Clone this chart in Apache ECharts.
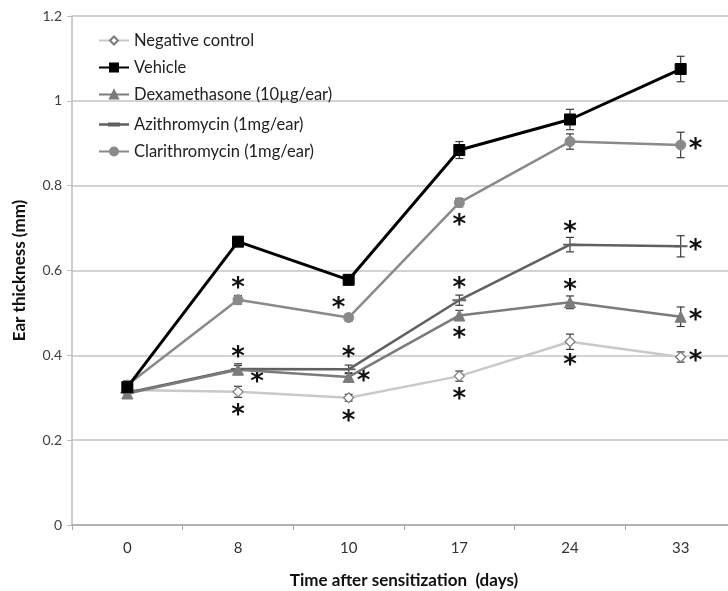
<!DOCTYPE html>
<html><head><meta charset="utf-8">
<script src="https://cdn.jsdelivr.net/npm/echarts@6/dist/echarts.min.js"></script>
<style>html,body{margin:0;padding:0;background:#fff}#c{width:728px;height:591px}</style>
</head><body><div id="c"></div>
<script>
// ---- data ----
const days = ['0', '8', '10', '17', '24', '33'];
const seriesNames = ['Negative control', 'Vehicle', 'Dexamethasone (10µg/ear)', 'Azithromycin (1mg/ear)', 'Clarithromycin (1mg/ear)'];

const negative    = [0.318, 0.314, 0.300, 0.351, 0.432, 0.396];
const negativeErr = [0.008, 0.013, 0.008, 0.012, 0.018, 0.012];
const negativeSig = ['', 'below', 'below', 'below', 'below', 'right'];

const vehicle    = [0.325, 0.668, 0.578, 0.884, 0.956, 1.075];
const vehicleErr = [0.010, 0.010, 0.008, 0.020, 0.024, 0.030];
const vehicleSig = ['', '', '', '', '', ''];

const dexa    = [0.310, 0.366, 0.349, 0.494, 0.525, 0.491];
const dexaErr = [0.010, 0.010, 0.010, 0.012, 0.015, 0.023];
const dexaSig = ['', 'lowright', 'right', 'below', 'above', 'right'];

const azithro    = [0.312, 0.368, 0.367, 0.530, 0.661, 0.657];
const azithroErr = [0.010, 0.012, 0.010, 0.012, 0.017, 0.025];
const azithroSig = ['', 'above', 'above', 'above', 'above', 'right'];

const clari    = [0.330, 0.531, 0.489, 0.760, 0.904, 0.896];
const clariErr = [0.010, 0.010, 0.008, 0.010, 0.018, 0.030];
const clariSig = ['', 'above', 'upleft', 'below', '', 'right'];

// ---- styling ----
const FONT = 'Lato, "Open Sans", sans-serif';
const sigOffset = {
  above: [0, -18], below: [0, 17], right: [15, -2], lowright: [19, 6], upleft: [-10, -15]
};

function annotations(name, vals, errs, sigs) {
  return {
    type: 'custom', name: name + ' err', silent: true, z: 1,
    data: vals.map((v, i) => [i, v, errs[i]]),
    encode: { x: 0, y: 1 },
    renderItem(params, api) {
      const i = api.value(0), v = api.value(1), e = api.value(2);
      const c = api.coord([i, v]), hi = api.coord([i, v + e]), lo = api.coord([i, v - e]);
      const cap = 4, st = { stroke: '#3a3a3a', lineWidth: 1.2 };
      const ch = [
        { type: 'line', shape: { x1: c[0], y1: hi[1], x2: c[0], y2: lo[1] }, style: st },
        { type: 'line', shape: { x1: c[0] - cap, y1: hi[1], x2: c[0] + cap, y2: hi[1] }, style: st },
        { type: 'line', shape: { x1: c[0] - cap, y1: lo[1], x2: c[0] + cap, y2: lo[1] }, style: st }
      ];
      const s = sigs[params.dataIndex];
      if (s) {
        const o = sigOffset[s];
        ch.push({ type: 'text', z2: 10, style: { text: '*', x: c[0] + o[0], y: c[1] + o[1] + 7,
          align: 'center', verticalAlign: 'middle', font: 'bold 26px "DejaVu Sans"', fill: '#111' } });
      }
      return { type: 'group', children: ch };
    }
  };
}

function lineSeries(name, vals, color, width, symbol, size, extra) {
  return Object.assign({
    type: 'line', name, data: vals, z: 3,
    symbol, symbolSize: size, showSymbol: true,
    lineStyle: { color, width },
    itemStyle: { color, borderColor: color, borderWidth: 1 },
    emphasis: { disabled: true }
  }, extra || {});
}

const legendText = { fontFamily: FONT, fontSize: 16.5, color: '#222', lineHeight: 16 };
const dashIcon = 'path://M15,0L15.01,0L15.01,0.01Z M0,3.8L30,3.8L30,6.2L0,6.2Z M9,3L21,3L21,7L9,7Z M15,10L15.01,10L15.01,9.99Z';
const chart = echarts.init(document.getElementById('c'), null, { renderer: 'canvas' });
chart.setOption({
  animation: false,
  backgroundColor: '#fff',
  grid: { left: 72, right: -8, top: 16, bottom: 66, containLabel: false, outerBoundsMode: 'none' },
  legend: [
    { data: seriesNames.slice(0, 3), orient: 'vertical', left: 93, top: 27, itemWidth: 30, itemHeight: 10,
      itemGap: 10, textStyle: legendText, selectedMode: false },
    { data: [{ name: seriesNames[3], icon: dashIcon, itemStyle: { borderWidth: 0, color: '#606060' } }, seriesNames[4]],
      orient: 'vertical', left: 93, top: 111,
      itemWidth: 30, itemHeight: 10, itemGap: 10, textStyle: legendText, selectedMode: false }
  ],
  xAxis: {
    type: 'category', data: days, boundaryGap: true,
    name: 'Time after sensitization  (days)', nameLocation: 'middle', nameGap: 47,
    nameTextStyle: { fontFamily: FONT, fontSize: 17, fontWeight: 'bold', color: '#111' },
    axisLine: { lineStyle: { color: '#a8a8a8', width: 1.5 } },
    axisTick: { show: true, interval: 0, alignWithLabel: false, length: 5, lineStyle: { color: '#a8a8a8' } },
    axisLabel: { fontFamily: FONT, fontSize: 15, color: '#333', margin: 16 },
    splitLine: { show: false }
  },
  yAxis: {
    type: 'value', min: 0, max: 1.2, interval: 0.2,
    name: 'Ear thickness (mm)', nameLocation: 'middle', nameGap: 44,
    nameTextStyle: { fontFamily: FONT, fontSize: 17, fontWeight: 'bold', color: '#111' },
    axisLine: { show: true, lineStyle: { color: '#bdbdbd', width: 1.5 } },
    axisTick: { show: true, length: 5, lineStyle: { color: '#bdbdbd' } },
    axisLabel: { fontFamily: FONT, fontSize: 14, color: '#404040', margin: 10 },
    splitLine: { show: true, lineStyle: { color: '#c4c4c4', width: 1.5 } }
  },
  series: [
    annotations('neg', negative, negativeErr, negativeSig),
    annotations('veh', vehicle, vehicleErr, vehicleSig),
    annotations('dex', dexa, dexaErr, dexaSig),
    annotations('azi', azithro, azithroErr, azithroSig),
    annotations('cla', clari, clariErr, clariSig),
    lineSeries(seriesNames[0], negative, '#c9c9c9', 2.5, 'diamond', 10,
      { itemStyle: { color: '#fff', borderColor: '#7a7a7a', borderWidth: 1.2 } }),
    lineSeries(seriesNames[3], azithro, '#606060', 2.5, 'path://M0,0L12,0L12,4L0,4Z', [12, 4],
      { symbolKeepAspect: true }),
    lineSeries(seriesNames[2], dexa, '#7b7b7b', 2.5, 'triangle', 11),
    lineSeries(seriesNames[4], clari, '#8a8a8a', 2.5, 'circle', 10),
    lineSeries(seriesNames[1], vehicle, '#000', 3, 'rect', 11)
  ]
});
</script></body></html>
